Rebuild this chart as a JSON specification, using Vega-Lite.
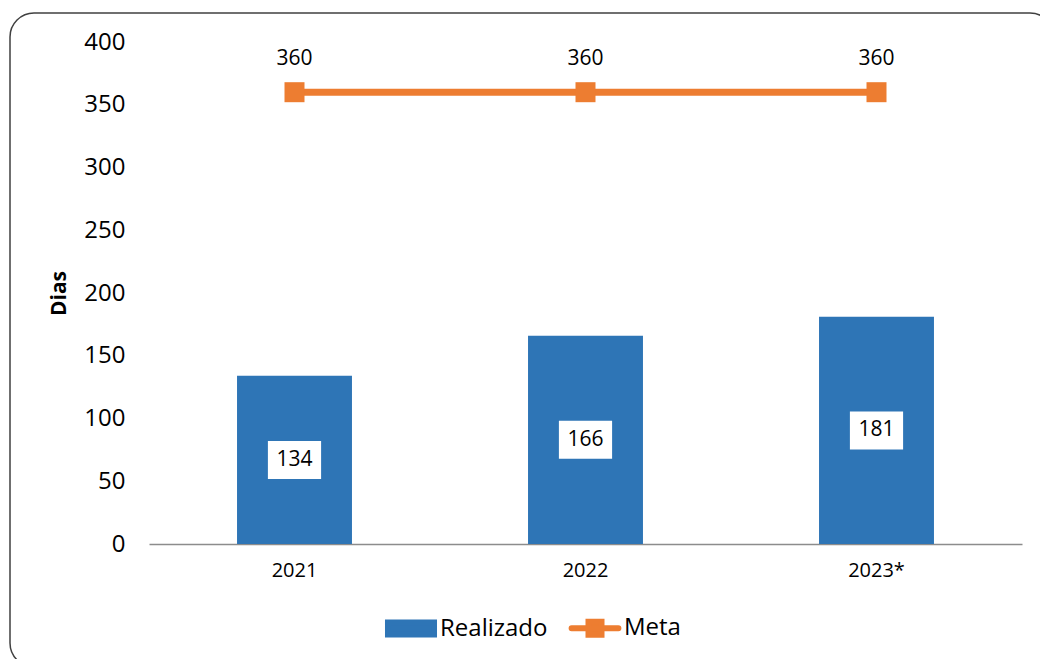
{
  "$schema": "https://vega.github.io/schema/vega-lite/v6.json",
  "width": 1044,
  "height": 654,
  "autosize": {"type": "none"},
  "padding": {"left": 10, "top": 13, "right": 0, "bottom": 0},
  "background": "white",
  "config": {
    "view": {"stroke": "#404040", "strokeWidth": 1.5, "cornerRadius": 24, "fill": "white"},
    "font": "Open Sans",
    "text": {"font": "Open Sans"}
  },
  "data": {
    "values": [
      {"year": "2021", "Realizado": 134, "Meta": 360},
      {"year": "2022", "Realizado": 166, "Meta": 360},
      {"year": "2023*", "Realizado": 181, "Meta": 360}
    ]
  },
  "encoding": {
    "x": {
      "field": "year",
      "type": "nominal",
      "sort": null,
      "scale": {"range": [139, 1012], "paddingInner": 0.605, "paddingOuter": 0.3025},
      "axis": {
        "title": null,
        "offset": -123,
        "labelAngle": 0,
        "labelFontSize": 20,
        "labelPadding": 16,
        "labelColor": "#000",
        "domainColor": "#8c8c8c",
        "domainWidth": 1.5,
        "ticks": false,
        "grid": false
      }
    }
  },
  "layer": [
    {
      "mark": {"type": "bar", "color": "#2E75B6"},
      "encoding": {
        "y": {
          "field": "Realizado",
          "type": "quantitative",
          "scale": {"domain": [0, 400], "nice": false, "range": [531, 29]},
          "axis": {
            "title": "Dias",
            "offset": -139,
            "titleFontSize": 21,
            "titleFontWeight": "bold",
            "titleColor": "#000",
            "titlePadding": 14,
            "values": [0, 50, 100, 150, 200, 250, 300, 350, 400],
            "labelFontSize": 24,
            "labelColor": "#000",
            "labelPadding": 24,
            "domain": false,
            "ticks": false,
            "grid": false
          }
        },
        "color": {
          "datum": "Realizado",
          "type": "nominal",
          "scale": {"domain": ["Realizado", "Meta"], "range": ["#2E75B6", "#ED7D31"]},
          "legend": {
            "title": null,
            "orient": "none",
            "legendX": 372,
            "legendY": 586,
            "padding": 0,
            "direction": "horizontal",
            "labelFontSize": 24,
            "labelColor": "#000",
            "labelOffset": 0,
            "columnPadding": 11,
            "symbolSize": 2704,
            "symbolStrokeWidth": 6,
            "encode": {
              "symbols": {
                "update": {
                  "shape": {"signal": "datum.value === 'Meta' ? 'M-0.9,0H0.9M-0.25,-0.25H0.25V0.25H-0.25Z' : 'M-0.885,-0.23H0.885V0.23H-0.885Z'"},
                  "strokeWidth": {"value": 6},
                  "strokeCap": {"signal": "datum.value === 'Meta' ? 'round' : 'butt'"},
                  "strokeJoin": {"value": "miter"},
                  "fillOpacity": {"value": 1},
                  "strokeOpacity": {"value": 1}
                }
              }
            }
          }
        }
      }
    },
    {
      "transform": [{"calculate": "datum.Realizado / 2", "as": "mid"}],
      "mark": {"type": "point", "shape": "M-1.4,-1H1.4V1H-1.4Z", "filled": true, "color": "white", "opacity": 1, "size": 1444},
      "encoding": {
        "y": {"field": "mid", "type": "quantitative"}
      }
    },
    {
      "transform": [{"calculate": "datum.Realizado / 2", "as": "mid"}],
      "mark": {"type": "text", "fontSize": 21, "color": "#000"},
      "encoding": {
        "y": {"field": "mid", "type": "quantitative"},
        "text": {"field": "Realizado", "type": "quantitative"}
      }
    },
    {
      "mark": {"type": "line", "strokeWidth": 7, "point": {"shape": "square", "size": 400, "filled": true, "opacity": 1}},
      "encoding": {
        "y": {"field": "Meta", "type": "quantitative"},
        "color": {"datum": "Meta", "type": "nominal"}
      }
    },
    {
      "mark": {"type": "text", "fontSize": 21, "color": "#000", "dy": -33},
      "encoding": {
        "y": {"field": "Meta", "type": "quantitative"},
        "text": {"field": "Meta", "type": "quantitative"}
      }
    }
  ]
}
